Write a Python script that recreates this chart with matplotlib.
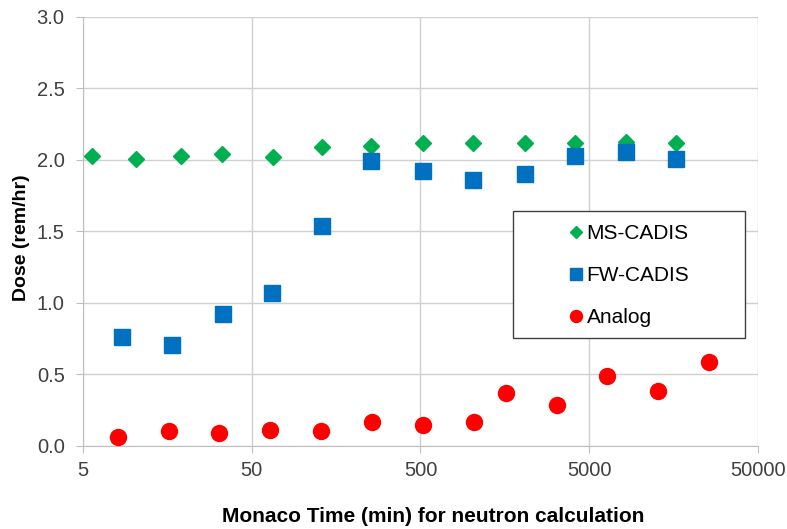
import matplotlib
matplotlib.use('Agg')
import matplotlib.pyplot as plt
from matplotlib.patches import Rectangle
from matplotlib.ticker import FixedLocator, FixedFormatter, NullLocator

plt.rcParams['font.family'] = ['Liberation Sans', 'DejaVu Sans']

# MS-CADIS
ms_time = [5.65, 10.3, 19.1, 33.5, 67, 131, 256, 516, 1022, 2065, 4122, 8236, 16361]
ms_dose = [2.024, 2.005, 2.028, 2.038, 2.017, 2.089, 2.098, 2.115, 2.117, 2.12, 2.12, 2.125, 2.12]

# FW-CADIS
fw_time = [8.58, 16.9, 34, 65.9, 131, 256, 518, 1022, 2065, 4122, 8236, 16361]
fw_dose = [0.762, 0.704, 0.920, 1.070, 1.536, 1.993, 1.923, 1.859, 1.904, 2.024, 2.056, 2.005]

# Analog
an_time = [8.12, 16.2, 32.2, 64.2, 128, 258, 515, 1040, 1611, 3213, 6400, 12760, 25400]
an_dose = [0.06, 0.107, 0.091, 0.112, 0.107, 0.165, 0.147, 0.167, 0.372, 0.284, 0.49, 0.386, 0.588]

xticks = [5, 50, 500, 5000, 50000]
xtick_labels = ['5', '50', '500', '5000', '50000']
yticks = [0.0, 0.5, 1.0, 1.5, 2.0, 2.5, 3.0]

fig = plt.figure(figsize=(7.87, 5.29), dpi=100)
ax = fig.add_axes([0.1051, 0.1569, 0.8584, 0.8115])

grid_c = '#D0D0D0'
ax.set_xscale('log')
ax.set_xlim(5, 50000)
ax.set_ylim(0, 3.0)
ax.xaxis.set_major_locator(FixedLocator(xticks))
ax.xaxis.set_major_formatter(FixedFormatter(xtick_labels))
ax.xaxis.set_minor_locator(NullLocator())
ax.set_yticks(yticks)
ax.set_yticklabels(['%.1f' % v for v in yticks])
ax.grid(True, color=grid_c, linewidth=1.0)
ax.set_axisbelow(True)
for s in ['top', 'right']:
    ax.spines[s].set_visible(False)
for s in ['left', 'bottom']:
    ax.spines[s].set_color('#BFBFBF')
ax.tick_params(axis='both', length=5, color='#BFBFBF', labelsize=14.5, labelcolor='#404040')
ax.tick_params(axis='y', pad=8)
ax.tick_params(axis='x', pad=6)

ax.plot(ms_time, ms_dose, 'D', color='#00B050', markersize=8.2, label='MS-CADIS', clip_on=False, zorder=3)
ax.plot(fw_time, fw_dose, 's', color='#0070C0', markersize=12, label='FW-CADIS', clip_on=False, zorder=4)
ax.plot(an_time, an_dose, 'o', color='#FF0000', markersize=11.5, label='Analog', clip_on=False, zorder=3)

# legend box drawn separately so the entries can sit off-centre like the original
ax.add_patch(Rectangle((0.637, 0.252), 0.343, 0.295, transform=ax.transAxes,
                       facecolor='white', edgecolor='#404040', linewidth=1.0, zorder=5))
leg = ax.legend(loc='upper left', bbox_to_anchor=(0.718, 0.517), frameon=False,
                borderpad=0, borderaxespad=0, handlelength=0.8, handletextpad=0.1,
                labelspacing=1.11, fontsize=15, markerscale=0.75, numpoints=1)
leg.set_zorder(6)

fig.text(0.551, 1 - 516 / 529, 'Monaco Time (min) for neutron calculation',
         fontsize=15, fontweight='bold', ha='center', va='center')
fig.text(22 / 787, 1 - 238 / 529, 'Dose (rem/hr)', fontsize=14, fontweight='bold',
         ha='center', va='center', rotation=90)

fig.savefig('out.png', dpi=100)
